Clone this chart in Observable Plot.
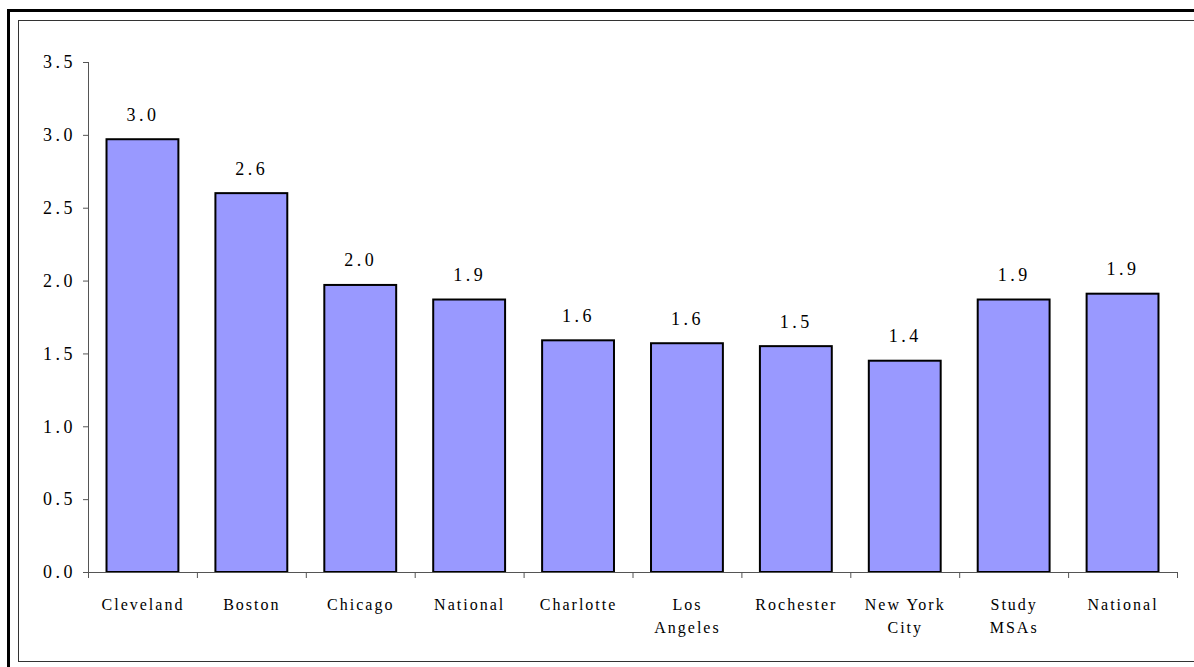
<!DOCTYPE html>
<html>
<head>
<meta charset="utf-8">
<script src="https://cdn.jsdelivr.net/npm/d3@7"></script>
<script src="https://cdn.jsdelivr.net/npm/@observablehq/plot@0.6"></script>
<style>
  html, body { margin: 0; padding: 0; background: white; }
  #wrap { position: relative; width: 1194px; height: 667px; overflow: hidden; }
  #chart { position: absolute; left: 0; top: 0; }
  #chart svg, #chart svg text { font-family: "Liberation Serif", "Times New Roman", serif !important; }
  .outer { position: absolute; left: 7px; top: 9px; width: 1300px; height: 800px; border: 3px solid black; box-sizing: border-box; }
  .inner { position: absolute; left: 18px; top: 20px; width: 1300px; height: 642px; border: 1.5px solid #333; box-sizing: border-box; }
</style>
</head>
<body>
<div id="wrap">
  <div id="chart"></div>
  <div class="outer"></div>
  <div class="inner"></div>
</div>
<script>
const categories = ["Cleveland", "Boston", "Chicago", "National", "Charlotte", "Los\nAngeles", "Rochester", "New York\nCity", "Study\nMSAs", "National"];
const values = [2.97, 2.60, 1.97, 1.87, 1.59, 1.57, 1.55, 1.45, 1.87, 1.91];
const valueLabels = ["3.0", "2.6", "2.0", "1.9", "1.6", "1.6", "1.5", "1.4", "1.9", "1.9"];
const yTicks = [0, 0.5, 1, 1.5, 2, 2.5, 3, 3.5];

const rows = categories.map((c, i) => ({i, category: c, value: values[i], label: valueLabels[i]}));
const boundaries = d3.range(0, categories.length + 1);
const centers = categories.map((c, i) => i + 0.5);

const chart = Plot.plot({
  width: 1194,
  height: 667,
  marginLeft: 88,
  marginRight: 17,
  marginTop: 62,
  marginBottom: 95,
  style: {background: "transparent", fontFamily: "Liberation Serif, Times New Roman, serif", color: "black"},
  x: {type: "linear", domain: [0, categories.length]},
  y: {domain: [0, 3.5]},
  marks: [
    Plot.rectY(rows, {x1: d => d.i + 0.17, x2: d => d.i + 0.83, y: "value", fill: "#9999ff", stroke: "black", strokeWidth: 2}),
    Plot.ruleX([0], {stroke: "#555"}),
    Plot.ruleY([0], {stroke: "#555"}),
    Plot.axisY({ticks: yTicks, tickSize: 5, tickPadding: 7.5, tickFormat: d3.format(".1f"), fontSize: 18, label: null}),
    Plot.axisX({ticks: boundaries, tickSize: 6, tickFormat: () => "", label: null}),
    Plot.axisX({ticks: centers, tickSize: 0, tickPadding: 21.6, fontSize: 16, lineHeight: 1.44, tickFormat: v => categories[Math.floor(v)], label: null}),
    Plot.text(rows, {x: d => d.i + 0.5, y: "value", text: "label", lineAnchor: "bottom", dy: -19, fontSize: 18})
  ]
});
document.getElementById("chart").appendChild(chart);
const svg = d3.select(chart);
svg.selectAll('g[aria-label="y-axis tick label"] text').style("letter-spacing", "3.5px");
svg.selectAll('g[aria-label="text"] text').style("letter-spacing", "3.5px");
svg.selectAll('g[aria-label="x-axis tick label"] text').style("letter-spacing", "2px");
svg.selectAll('g[aria-label="y-axis tick"] path, g[aria-label="x-axis tick"] path').attr("stroke", "#555");
</script>
</body>
</html>
